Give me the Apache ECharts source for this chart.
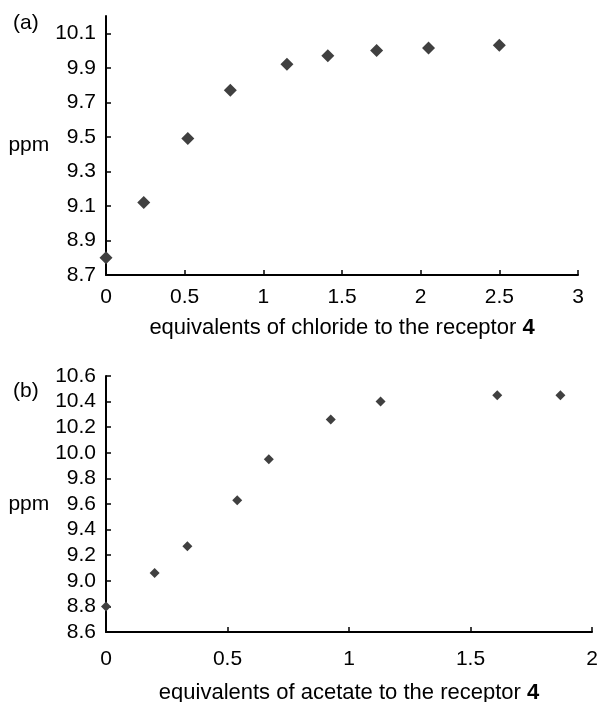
<!DOCTYPE html>
<html>
<head>
<meta charset="utf-8">
<script src="https://cdn.jsdelivr.net/npm/echarts@6/dist/echarts.min.js"></script>
<style>
  html, body { margin: 0; padding: 0; background: #fff; }
  #chart { width: 601px; height: 702px; }
</style>
</head>
<body>
<div id="chart"></div>
<script>
// (a) chloride titration
const chlorideEq = [0, 0.24, 0.52, 0.79, 1.15, 1.41, 1.72, 2.05, 2.5];
const chloridePpm = [8.80, 9.12, 9.49, 9.77, 9.92, 9.97, 10.00, 10.015, 10.03];
const chlorideXTicks = [0, 0.5, 1, 1.5, 2, 2.5, 3];
const chlorideYTicks = [8.7, 8.9, 9.1, 9.3, 9.5, 9.7, 9.9, 10.1];

// (b) acetate titration
const acetateEq = [0, 0.2, 0.335, 0.54, 0.67, 0.925, 1.13, 1.61, 1.87];
const acetatePpm = [8.80, 9.06, 9.27, 9.63, 9.95, 10.26, 10.40, 10.45, 10.45];
const acetateXTicks = [0, 0.5, 1, 1.5, 2];
const acetateYTicks = [8.6, 8.8, 9.0, 9.2, 9.4, 9.6, 9.8, 10.0, 10.2, 10.4, 10.6];

const FONT = '"Liberation Sans", Arial, sans-serif';

(function () {
  let myChart = echarts.init(document.getElementById('chart'));

  function xAxis(grid, max, ticks, nameText, labelMargin, nameGap) {
    return {
      type: 'value',
      gridIndex: grid,
      min: 0,
      max: max,
      splitLine: {show: false},
      axisLine: {lineStyle: {color: '#000', width: 2}},
      axisTick: {inside: true, length: 5, customValues: ticks, lineStyle: {color: '#000', width: 1.5}},
      axisLabel: {customValues: ticks, margin: labelMargin, color: '#000', fontSize: 21, fontFamily: FONT},
      name: '{n|' + nameText + '}{b|4}',
      nameLocation: 'middle',
      nameGap: nameGap,
      nameTextStyle: {
        rich: {
          n: {fontSize: 22, fontFamily: FONT, color: '#000'},
          b: {fontSize: 22, fontFamily: FONT, color: '#000', fontWeight: 'bold'},
        },
      },
    };
  }

  function yAxis(grid, min, max, ticks) {
    return {
      type: 'value',
      gridIndex: grid,
      min: min,
      max: max,
      splitLine: {show: false},
      axisLine: {lineStyle: {color: '#000', width: 2}},
      axisTick: {inside: true, length: 5, customValues: ticks, lineStyle: {color: '#000', width: 1.5}},
      axisLabel: {
        customValues: ticks,
        margin: 10,
        color: '#000',
        fontSize: 21,
        fontFamily: FONT,
        formatter: function (v) { return v.toFixed(1); },
      },
      name: 'ppm',
      nameLocation: 'middle',
      nameRotate: 0,
      nameGap: 76,
      nameTextStyle: {color: '#000', fontSize: 21, fontFamily: FONT, align: 'center', verticalAlign: 'middle'},
    };
  }

  option = {
    animation: false,
    title: [
      {text: '(a)', left: 8, top: 8, textStyle: {fontSize: 21, fontWeight: 'normal', color: '#000', fontFamily: FONT}},
      {text: '(b)', left: 8, top: 376, textStyle: {fontSize: 21, fontWeight: 'normal', color: '#000', fontFamily: FONT}},
    ],
    grid: [
      {left: 106, top: 16, width: 472, height: 259, outerBoundsMode: 'none'},
      {left: 106, top: 376, width: 486, height: 256, outerBoundsMode: 'none'},
    ],
    xAxis: [
      xAxis(0, 3, chlorideXTicks, 'equivalents of chloride to the receptor ', 12, 42),
      xAxis(1, 2, acetateXTicks, 'equivalents of acetate to the receptor ', 17, 50),
    ],
    yAxis: [
      yAxis(0, 8.7, 10.2, chlorideYTicks),
      yAxis(1, 8.6, 10.6, acetateYTicks),
    ],
    series: [
      {
        type: 'scatter',
        xAxisIndex: 0,
        yAxisIndex: 0,
        symbol: 'diamond',
        symbolSize: 13,
        itemStyle: {color: '#404040', opacity: 1},
        data: chlorideEq.map(function (x, i) { return [x, chloridePpm[i]]; }),
      },
      {
        type: 'scatter',
        xAxisIndex: 1,
        yAxisIndex: 1,
        symbol: 'diamond',
        symbolSize: 10,
        itemStyle: {color: '#404040', opacity: 1},
        data: acetateEq.map(function (x, i) { return [x, acetatePpm[i]]; }),
      },
    ],
  };
  myChart.setOption(option);
})();
</script>
</body>
</html>
